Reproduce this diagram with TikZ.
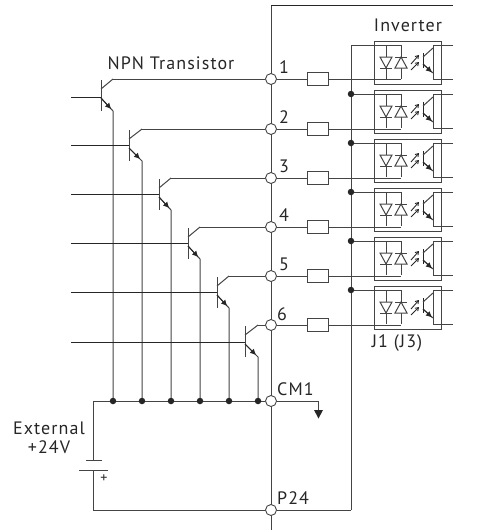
\documentclass[tikz,border=0pt]{standalone}
\usepackage{fontspec}
\setmainfont[LetterSpace=6]{PT Sans}
\usetikzlibrary{arrows.meta,calc}
\definecolor{wire}{HTML}{444444}
\tikzset{
  x=1pt,y=-1pt,
  wireline/.style={draw=wire,line width=1pt},
  thin wire/.style={draw=black!85,line width=0.9pt},
  term/.style={circle,draw=wire,fill=white,line width=0.9pt,minimum size=11pt,inner sep=0pt},
  jdot/.style={circle,fill=black!85,draw=none,minimum size=6.5pt,inner sep=0pt},
  res/.style={rectangle,draw=wire,fill=white,line width=1pt,minimum width=21pt,minimum height=13pt,inner sep=0pt},
  lab/.style={inner sep=0pt,text=black!85,font=\fontsize{18}{20}\selectfont},
  headtip/.style={-{Latex[length=6pt,width=6pt]}},
}
\begin{document}
\begin{tikzpicture}
\useasboundingbox (0,0) rectangle (495,530);
% main line
\coordinate (topstart) at (271,5);
\coordinate (topend) at (453,5);
\coordinate (botL) at (271,530);
\draw[wireline] (topstart) -- (botL);
\draw[black!85,line width=1pt] (topstart) -- (topend);
% right rail
\coordinate (railtop) at (351,45);
\coordinate (railbot) at (351,510);
\draw[wireline] (railtop) -- (railbot);
% channels
\foreach \i/\c/\b/\bx/\ex in {1/79/97/101/113,2/129/145/129/142,3/178/194/159/171,4/227/243/188/200,5/276/292/217/229,6/325/342/245/258}{
  \coordinate (wD\i) at (401,\c);
  \coordinate (col\i) at (\ex,\c);
  \coordinate (colb\i) at (\bx,\c+10);
  \coordinate (emb\i) at (\bx,\c+19);
  \coordinate (eme\i) at (\ex,\c+32);
  \coordinate (bas\i) at (\bx,\b);
  \coordinate (basl\i) at (71,\b);
  \coordinate (bus\i) at (\ex,401);
  \draw[thin wire] (basl\i) -- (bas\i);
  \draw[wireline] (\bx,\c+1) -- (\bx,\c+32);
  \draw[wireline] (colb\i) -- (col\i);
  \draw[wireline] (emb\i) -- (eme\i) -- (bus\i);
  \draw[thin wire,headtip] (emb\i) -- ($(emb\i)!0.85!(eme\i)$);
}
\foreach \i/\c in {1/79,2/129,3/178,4/227,5/276,6/325}{
  \node[term] (T\i) at (271,\c) {};
  \node[res] (R\i) at (317.5,\c) {};
  \draw[wireline] (col\i) -- (T\i);
  \draw[wireline] (T\i) -- (R\i);
  \draw[wireline] (R\i) -- (wD\i);
}
% opto couplers
\foreach \i/\t in {1/41,2/90,3/139,4/188,5/237,6/286}{
\begin{scope}[shift={(0,\t)}]
  \node[draw=wire,line width=1pt,minimum width=67pt,minimum height=43pt,inner sep=0pt] (box\i) at (407.5,21.5) {};
  \coordinate (wt\i) at (351,4);
  \coordinate (wtr\i) at (401,4);
  \coordinate (wb\i) at (401,38);
  \draw[wireline] (wt\i) -- (wtr\i) -- (wb\i);
  \draw[wireline] (386,4) -- (386,38);
  \draw[wireline,fill=white] (380,16) -- (392,16) -- (386,27) -- cycle;
  \draw[wireline] (380,27) -- (392,27);
  \draw[wireline,fill=white] (395,27) -- (407,27) -- (401,16) -- cycle;
  \draw[wireline] (395,16) -- (407,16);
  \draw[thin wire,-{Straight Barb[length=3pt,width=4pt]}] (411,23) -- (419,14);
  \draw[thin wire,-{Straight Barb[length=3pt,width=4pt]}] (411,29) -- (419,21);
  \draw[thin wire] (423,12) -- (423,27);
  \draw[wireline] (423,16) -- (433,7);
  \draw[wireline] (423,23) -- (433,32);
  \draw[thin wire,headtip] (423,23) -- (432,31.5);
  \draw[wireline] (453,4) -- (433,4) -- (433,38) -- (453,38);
\end{scope}
}
\foreach \i/\t in {2/94,3/143,4/192,5/241,6/290}{\node[jdot] (J\i) at (351,\t) {};}
% bus
\node[term] (TC) at (271,401) {};
\node[term] (TP) at (271,510) {};
\coordinate (busL) at (93,401);
\coordinate (batS) at (93,460);
\coordinate (batL) at (93,470);
\coordinate (botC) at (93,510);
\draw[wireline] (TC) -- (busL) -- (batS);
\draw[wireline] (batL) -- (botC) -- (TP);
\draw[wireline] (TP) -- (railbot);
\draw[wireline] (86,460) -- (102,460);
\draw[wireline] (79,470) -- (108,470);
\foreach \i in {1,...,6}{\node[jdot] (D\i) at (bus\i) {};}
\coordinate (gnd) at (318,401);
\coordinate (gndb) at (318,410);
\draw[wireline] (TC) -- (gnd) -- (gndb);
\fill[black!85] (314,410) -- (323,410) -- (318.5,418.5) -- cycle;
% labels
\node[lab] (LN) at (171,63) {NPN Transistor};
\node[lab] (Linv) at (408,25) {Inverter};
\node[lab] (LJ) at (397,343) {J1 (J3)};
\node[lab] (L1) at (284,67) {1};
\node[lab] (L2) at (284,117) {2};
\node[lab] (L3) at (284,166) {3};
\node[lab] (L4) at (284,215) {4};
\node[lab] (L5) at (284,264) {5};
\node[lab] (L6) at (282,314) {6};
\node[lab,anchor=west] (LC) at (277,389) {CM1};
\node[lab,anchor=west] (LP) at (277,498) {P24};
\node[lab] (LE) at (49,428) {External};
\node[lab] (LV) at (49,447) {+24V};
\node[lab,font=\fontsize{14}{15}\selectfont] (Lp) at (104,479) {+};
\end{tikzpicture}
\end{document}
